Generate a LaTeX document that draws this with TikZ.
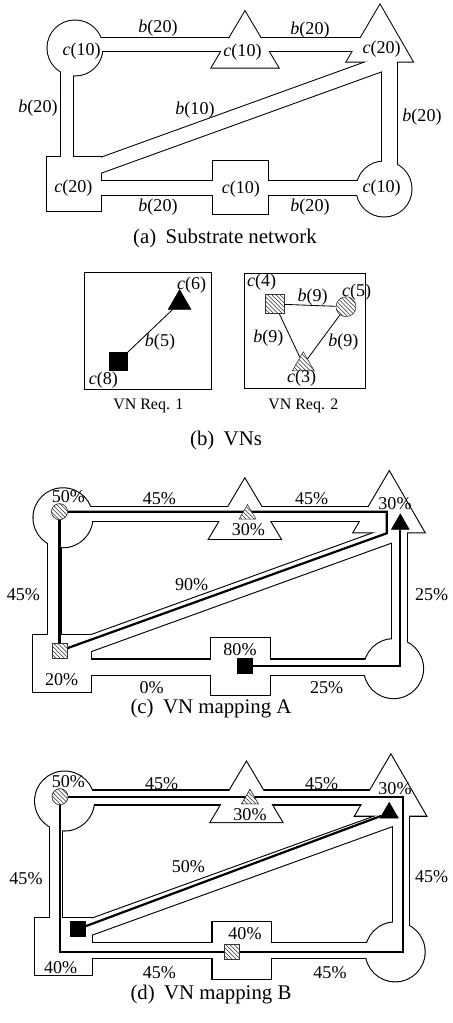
\documentclass[tikz,border=0pt]{standalone}
\usepackage{fontspec}
\setmainfont{Liberation Serif}
\usetikzlibrary{shapes.geometric,patterns}

\tikzset{
  lab/.style={font=\fontsize{13}{15}\selectfont, inner sep=0pt},
  reqtxt/.style={font=\fontsize{11.5}{13}\selectfont, inner sep=0pt},
  captxt/.style={font=\fontsize{15}{17}\selectfont, inner sep=0pt},
  vnlink/.style={line width=1.6pt, line join=miter},
  vnedge/.style={line width=0.6pt},
  hatch/.style={draw=black!80, line width=0.4pt, fill=white,
    postaction={pattern=north west lines, pattern color=black!80}},
  blk/.style={fill=black, draw=black},
  sqr/.style={rectangle, minimum size=#1, inner sep=0pt},
  tri/.style={regular polygon, regular polygon sides=3, minimum size=#1, inner sep=0pt},
  dot/.style={circle, minimum size=#1, inner sep=0pt},
}

\newcommand{\bwd}[1]{\textit{b}(#1)}
\newcommand{\cpu}[1]{\textit{c}(#1)}

% substrate nodes, in the coordinates of panel (a)
\newcommand{\subshapes}[1]{%
  \path[#1] (75,48) circle[radius=27.5];
  \path[#1] (245,11.7) -- (278.3,67.7) -- (211.7,67.7) -- cycle;
  \path[#1] (380,5) -- (412.7,61.7) -- (346.7,61.7) -- cycle;
  \path[#1] (47.3,157.3) rectangle (101,210.7);
  \path[#1] (213.3,160.7) rectangle (268.3,214);
  \path[#1] (384,189) circle[radius=27.5];
}
% substrate links as wide pipes
\newcommand{\subpipes}[2]{%
  \draw[#1, line width=(13+#2)*\upx] (75,44.7) -- (380,44.7);
  \draw[#1, line width=(11.5+#2)*\upx] (67,48) -- (67,184);
  \draw[#1, line width=(14+#2)*\upx] (74,175) -- (389.5,61);
  \draw[#1, line width=(14.6+#2)*\upx] (389.5,40) -- (389.5,189);
  \draw[#1, line width=(14+#2)*\upx] (74,187.5) -- (384,187.5);
}
\newcommand{\substrate}{%
  \subshapes{draw=black, line width=2*\upx}
  \subpipes{black}{2}
  \subshapes{fill=white}
  \subpipes{white}{0}
}

\begin{document}
\begin{tikzpicture}[x=0.72pt, y=-0.72pt]
  \useasboundingbox (0,0) rectangle (453,1023);

  % (a) substrate network
  \begin{scope}
    \def\upx{0.72pt}
    \substrate
  \end{scope}
  \node[lab] (sbTL) at (158,28) {\bwd{20}};
  \node[lab] (sbTR) at (310,30) {\bwd{20}};
  \node[lab] (scTL) at (81.7,50.8) {\cpu{10}};
  \node[lab] (scTM) at (242.5,51.7) {\cpu{10}};
  \node[lab] (scTR) at (381.7,49) {\cpu{20}};
  \node[lab] (sbL) at (38,108) {\bwd{20}};
  \node[lab] (sbD) at (195,110) {\bwd{10}};
  \node[lab] (sbR) at (422,117) {\bwd{20}};
  \node[lab] (scBL) at (73.3,188.3) {\cpu{20}};
  \node[lab] (scBM) at (240.8,189) {\cpu{10}};
  \node[lab] (scBR) at (381.7,188.3) {\cpu{10}};
  \node[lab] (sbBL) at (158,207) {\bwd{20}};
  \node[lab] (sbBR) at (310,207) {\bwd{20}};
  \node[captxt] (capa) at (225,238) {(a)\hspace{0.45em}Substrate network};

  % (b) the two virtual networks
  \draw[line width=0.6pt] (84.3,272) rectangle (211.7,389.3);
  \draw[line width=0.6pt] (244,273) rectangle (365,388.5);
  \node[blk, sqr=13pt] (vaS) at (118.3,361.2) {};
  \node[blk, tri=18.9pt] (vaT) at (179.6,302.8) {};
  \draw[vnedge] (vaS) -- (vaT);
  \node[lab] (vacT) at (191.7,284.7) {\cpu{6}};
  \node[lab] (vab) at (160,342) {\bwd{5}};
  \node[lab] (vacS) at (103.3,380.3) {\cpu{8}};
  \node[reqtxt] (reqa) at (148.3,406) {VN Req. 1};

  \node[hatch, sqr=13.7pt] (vbS) at (274.7,304) {};
  \node[hatch, dot=14.4pt] (vbC) at (346,306.7) {};
  \node[hatch, tri=18.3pt] (vbT) at (303.3,364.5) {};
  \draw[vnedge] (vbS) -- (vbC);
  \draw[vnedge] (vbS) -- (vbT);
  \draw[vnedge] (vbC) -- (vbT);
  \node[lab] (vbcS) at (261.7,281.7) {\cpu{4}};
  \node[lab] (vbbSC) at (312.7,296.7) {\bwd{9}};
  \node[lab] (vbcC) at (356.7,291.7) {\cpu{5}};
  \node[lab] (vbbST) at (268.3,338.3) {\bwd{9}};
  \node[lab] (vbbCT) at (343.3,341.7) {\bwd{9}};
  \node[lab] (vbcT) at (301.7,378.3) {\cpu{3}};
  \node[reqtxt] (reqb) at (303.3,406) {VN Req. 2};
  \node[captxt] (capb) at (226,440) {(b)\hspace{0.45em}VNs};

  % (c) mapping A
  \begin{scope}[shift={(-17.3,466.4)}, scale=1.07]
    \def\upx{0.7704pt}
    \substrate
  \end{scope}
  \coordinate (tA1) at (386.7,511.7);
  \coordinate (tA2) at (386.7,533.3);
  \node[hatch, dot=11.5pt] (hcA) at (59.5,511.7) {};
  \node[hatch, sqr=10.8pt] (hsA) at (59.5,651) {};
  \node[blk, sqr=10.8pt] (bsA) at (245,666) {};
  \draw[vnlink] (hcA) -- (tA1) -- (tA2) -- (hsA);
  \draw[vnlink] (hcA) -- (hsA);
  \draw[vnlink] (bsA) -| (400.3,530) coordinate (tA3);
  \node[hatch, tri=13.9pt] (htA) at (247.5,514.2) {};
  \node[blk, tri=14.7pt] (btA) at (400.3,524.2) {};
  \node[hatch, dot=11.5pt] at (hcA) {};
  \node[hatch, sqr=10.8pt] at (hsA) {};
  \node[blk, sqr=10.8pt] at (bsA) {};
  \node[lab] (pA1) at (68.3,496.7) {50\%};
  \node[lab] (pA2) at (159.3,498.3) {45\%};
  \node[lab] (pA3) at (311.7,498.3) {45\%};
  \node[lab] (pA4) at (395,503.3) {30\%};
  \node[lab] (pA5) at (248.3,530) {30\%};
  \node[lab] (pA6) at (23.3,595) {45\%};
  \node[lab] (pA7) at (191.7,585) {90\%};
  \node[lab] (pA8) at (431.7,595) {25\%};
  \node[lab] (pA9) at (240,650) {80\%};
  \node[lab] (pA10) at (61.7,680) {20\%};
  \node[lab] (pA11) at (151.7,688) {0\%};
  \node[lab] (pA12) at (326.7,688) {25\%};
  \node[captxt] (capc) at (211,709) {(c)\hspace{0.45em}VN mapping A};

  % (d) mapping B
  \begin{scope}[shift={(-15.7,749.65)}, scale=1.07]
    \def\upx{0.7704pt}
    \substrate
  \end{scope}
  \coordinate (tB1) at (402.7,796.7);
  \coordinate (tB2) at (402.7,951.7);
  \coordinate (tB3) at (60,951.7);
  \node[hatch, dot=11.5pt] (hcB) at (60,796.7) {};
  \node[hatch, sqr=10.8pt] (hsB) at (232.2,951.7) {};
  \node[hatch, tri=13.9pt] (htB) at (250,799) {};
  \node[blk, sqr=10.8pt] (bsB) at (77.5,929.2) {};
  \node[blk, tri=15.2pt] (btB) at (389.2,812.9) {};
  \draw[vnlink] (hcB.center) -- (tB1) -- (tB2) -- (tB3) -- cycle;
  \draw[vnlink] (bsB) -- (btB);
  \node[hatch, dot=11.5pt] at (hcB) {};
  \node[hatch, sqr=10.8pt] at (hsB) {};
  \node[hatch, tri=13.9pt] at (htB) {};
  \node[lab] (pB1) at (68.3,781.7) {50\%};
  \node[lab] (pB2) at (161.7,783.3) {45\%};
  \node[lab] (pB3) at (321.7,783.3) {45\%};
  \node[lab] (pB4) at (395,788.3) {30\%};
  \node[lab] (pB5) at (250,815) {30\%};
  \node[lab] (pB6) at (26,878.3) {45\%};
  \node[lab] (pB7) at (188.3,866.7) {50\%};
  \node[lab] (pB8) at (431.7,876.7) {45\%};
  \node[lab] (pB9) at (245,933.3) {40\%};
  \node[lab] (pB10) at (60.7,967.3) {40\%};
  \node[lab] (pB11) at (159.3,973) {45\%};
  \node[lab] (pB12) at (330,973) {45\%};
  \node[captxt] (capd) at (211,995) {(d)\hspace{0.45em}VN mapping B};
\end{tikzpicture}
\end{document}
